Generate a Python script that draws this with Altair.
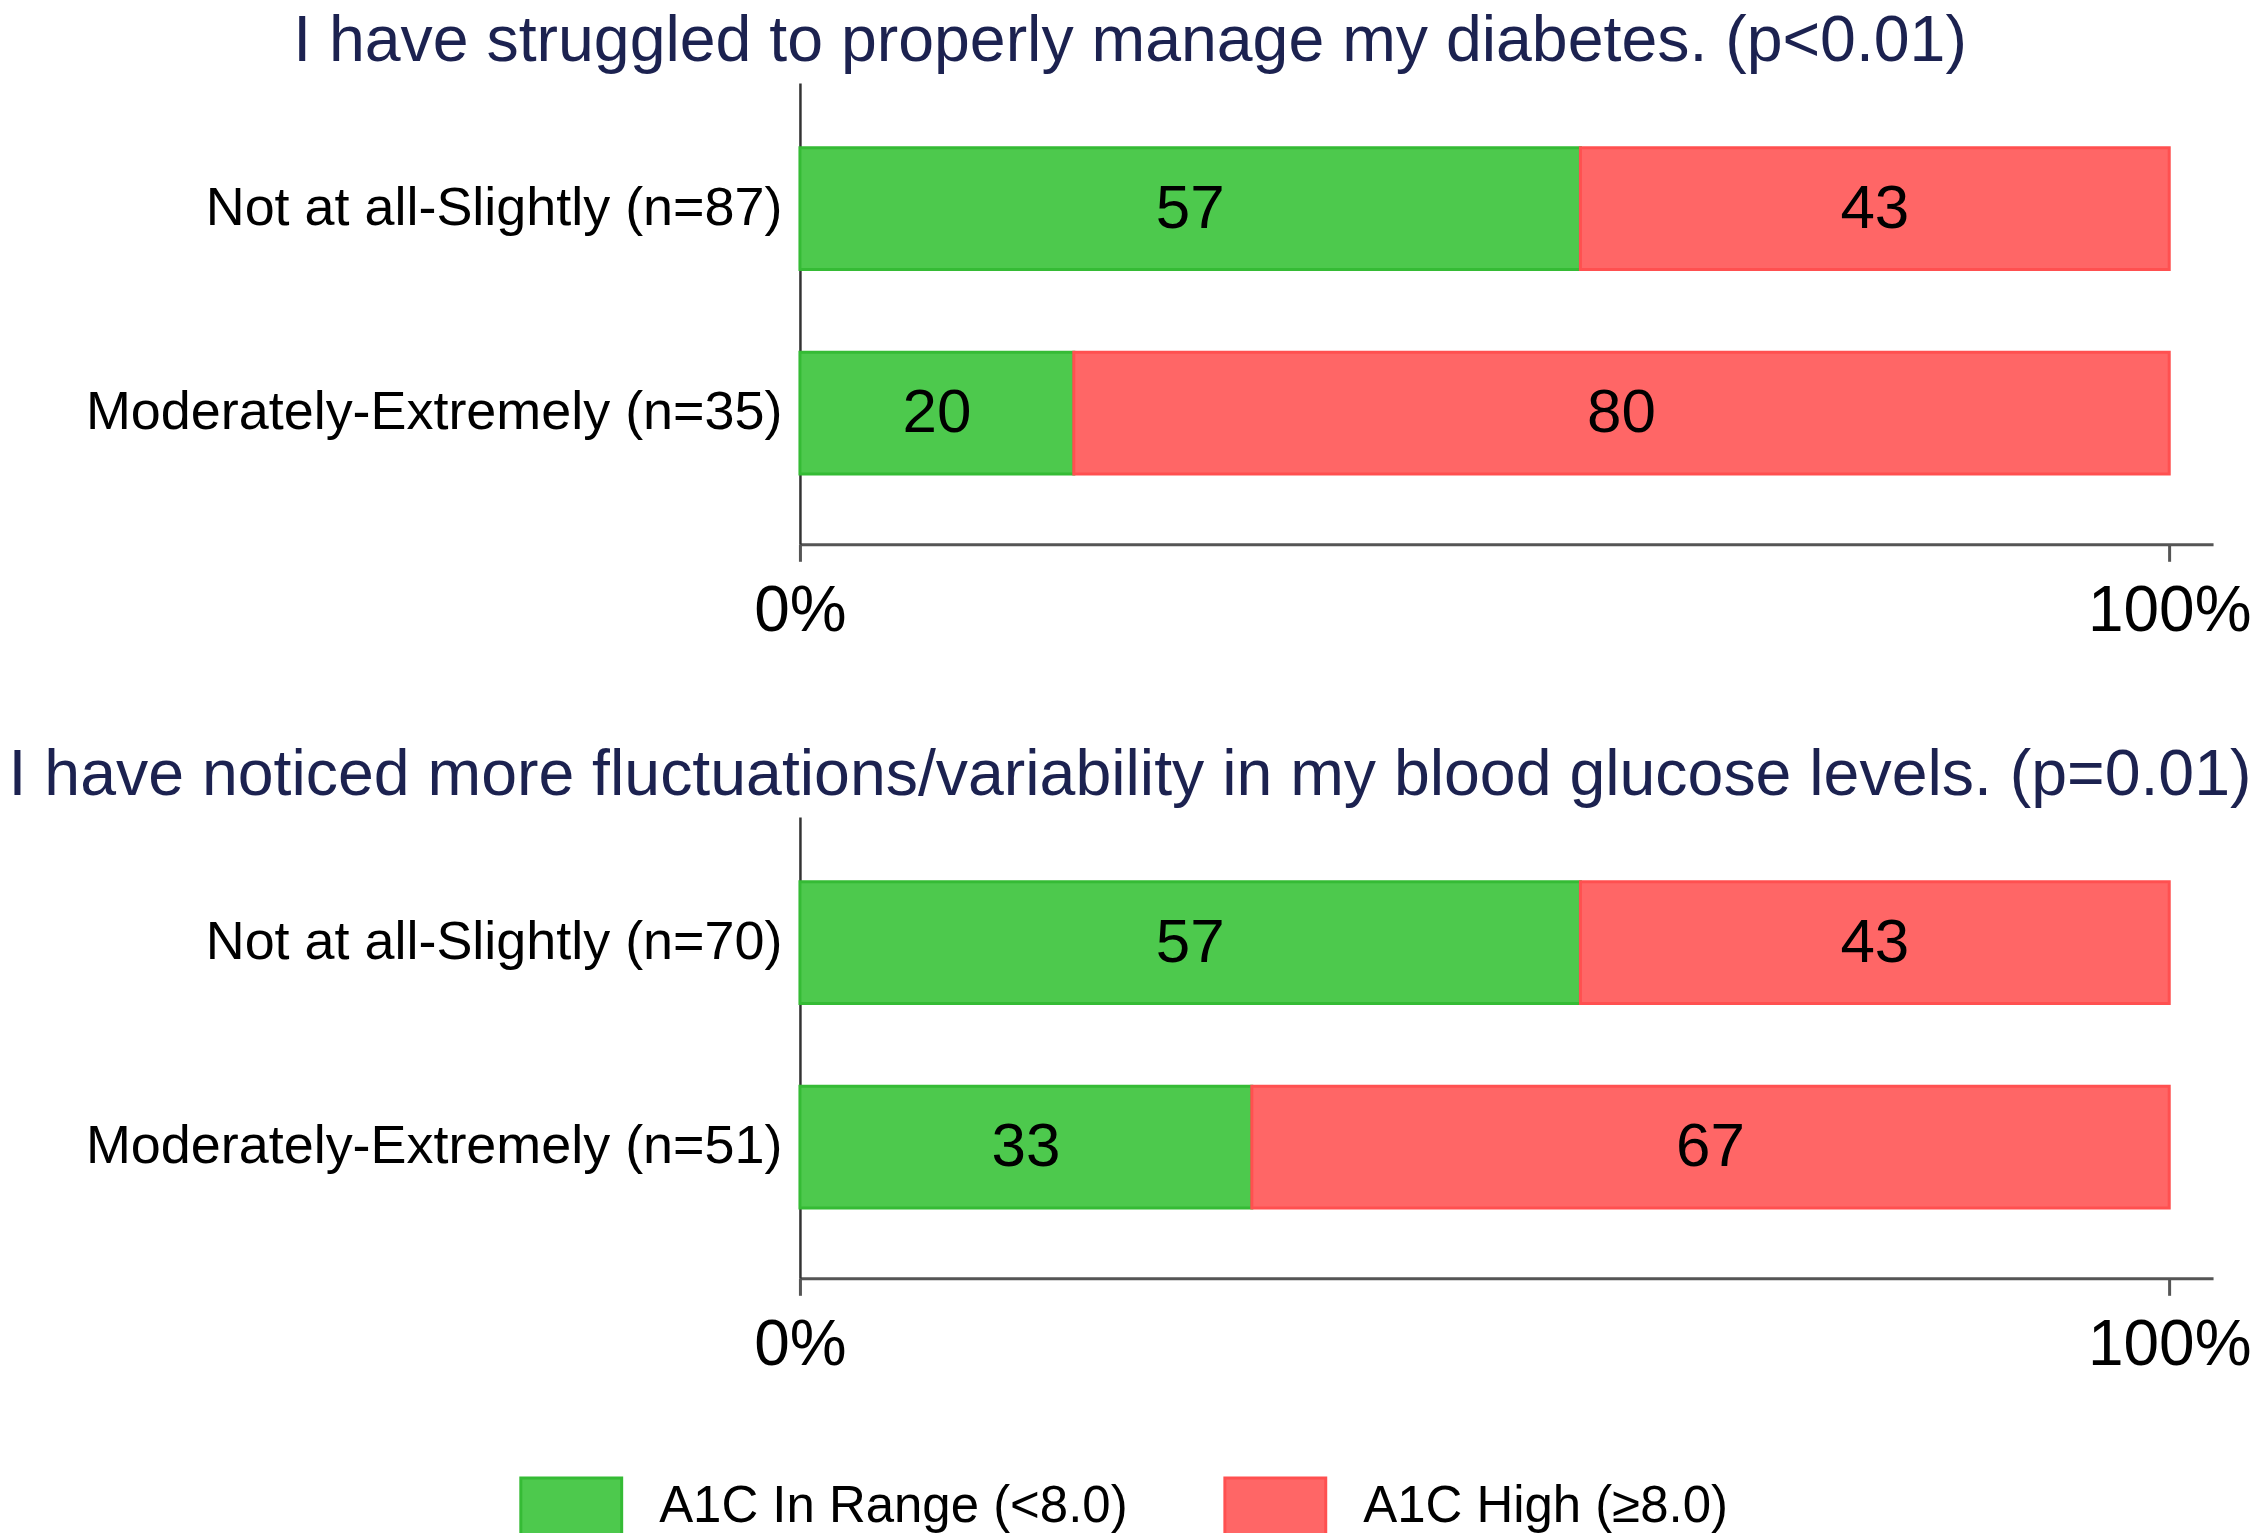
import altair as alt
import pandas as pd

FONT = "Liberation Sans"
TITLE_COLOR = "#1c2250"

questions = [
    "I have struggled to properly manage my diabetes. (p<0.01)",
    "I have noticed more fluctuations/variability in my blood glucose levels. (p=0.01)",
]
responses = [
    ["Not at all-Slightly (n=87)", "Moderately-Extremely (n=35)"],
    ["Not at all-Slightly (n=70)", "Moderately-Extremely (n=51)"],
]
in_range = [[57, 20], [57, 33]]
high = [[43, 80], [43, 67]]
categories = ["A1C In Range (<8.0)", "A1C High (\u22658.0)"]
fill_colors = ["#4DC94D", "#FF6666"]
stroke_colors = ["#35BB35", "#FF5050"]
x_ticks = [0, 100]


def make_df(qi):
    rows = []
    for ri, resp in enumerate(responses[qi]):
        rows.append({"response": resp, "category": categories[0], "value": in_range[qi][ri], "ord": 0})
        rows.append({"response": resp, "category": categories[1], "value": high[qi][ri], "ord": 1})
    return pd.DataFrame(rows)


legend = alt.Legend(
    orient="none",
    legendX=-281,
    legendY=1374,
    direction="horizontal",
    title=None,
    symbolType="M-1,-0.574H1V0.574H-1Z",
    symbolSize=10201,
    symbolStrokeWidth=3,
    symbolOpacity=1,
    labelFontSize=51,
    labelFont=FONT,
    labelColor="black",
    labelOffset=36,
    columnPadding=90,
    labelLimit=0,
)


def panel(qi):
    df = make_df(qi)
    base = alt.Chart(df)
    yenc = alt.Y(
        "response:N",
        sort=responses[qi],
        title=None,
        scale=alt.Scale(paddingInner=0.405, paddingOuter=0.33, align=0.48),
        axis=alt.Axis(
            ticks=False,
            domainColor="#333333",
            domainWidth=2.5,
            labelFontSize=54,
            labelFont=FONT,
            labelColor="black",
            labelPadding=18,
            labelLimit=0,
        ),
    )
    xscale = alt.Scale(domain=[0, 103.2], nice=False, zero=True)
    xaxis = alt.Axis(
        values=x_ticks,
        labelExpr="datum.value + '%'",
        title=None,
        grid=False,
        domainColor="#555555",
        domainWidth=3,
        tickColor="#555555",
        tickWidth=3,
        tickSize=17,
        labelFontSize=64,
        labelFont=FONT,
        labelColor="black",
        labelPadding=18,
        labelFlush=False,
    )
    bars = base.mark_bar(strokeWidth=3).encode(
        x=alt.X("value:Q", stack="zero", scale=xscale, axis=xaxis),
        y=yenc,
        fill=alt.Fill("category:N", sort=categories,
                      scale=alt.Scale(domain=categories, range=fill_colors), legend=legend),
        stroke=alt.Stroke("category:N", sort=categories,
                          scale=alt.Scale(domain=categories, range=stroke_colors), legend=legend),
        order=alt.Order("ord:Q"),
    )
    text = (
        base.transform_stack(stack="value", groupby=["response"], as_=["x0", "x1"],
                             sort=[alt.SortField("ord")])
        .transform_calculate(mid="(datum.x0 + datum.x1) / 2")
        .mark_text(fontSize=62, font=FONT, color="black")
        .encode(
            x=alt.X("mid:Q", scale=xscale, axis=xaxis),
            y=yenc,
            text=alt.Text("value:Q"),
        )
    )
    return alt.layer(bars, text).properties(
        width=1415,
        height=462,
        title=alt.TitleParams(
            text=questions[qi],
            anchor="middle",
            frame="group",
            dx=-377,
            fontSize=64.5,
            font=FONT,
            fontWeight="normal",
            color=TITLE_COLOR,
            offset=8,
        ),
    )


chart = (
    alt.vconcat(panel(0), panel(1), spacing=273, bounds="flush")
    .properties(padding=0, background="white")
    .configure_view(stroke=None)
)

chart.save("out.html", embed_options={"renderer": "svg", "actions": False})
